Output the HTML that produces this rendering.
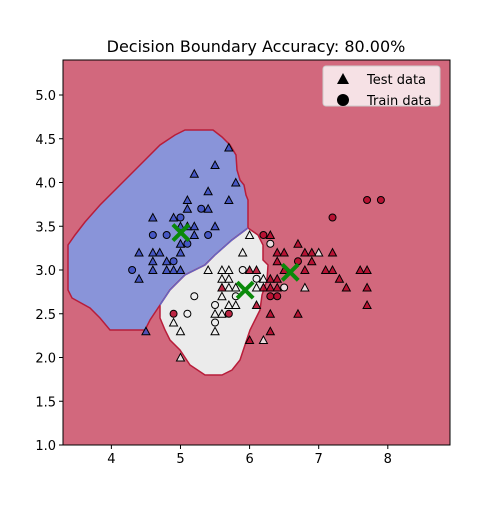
<!DOCTYPE html>
<html><head><meta charset="utf-8"><style>
body{margin:0;background:#fff;}
svg text{font-family:"DejaVu Sans","Liberation Sans",sans-serif;}
</style></head><body>
<svg id="chart" width="500" height="500" viewBox="0 0 500 500" xmlns="http://www.w3.org/2000/svg">
<rect width="500" height="500" fill="#fff"/>
<text x="256" y="52" font-size="16" text-anchor="middle">Decision Boundary Accuracy: 80.00%</text>
<g>
<rect x="63" y="60" width="387" height="385" fill="#d2687d"/>
<path fill="#8994d9" stroke="#b81d3a" stroke-width="1.5" d="M185,130 L213,130 L222,137 L230,145 L236,155 L237,170 L240,180 L244,185 L246,195 L248,200 L248,228 L232,240 L215,255 L205,265 L185,275 L170,290 L160,305 L150,320 L145,330 L110,330 L100,318 L90,308 L72,298 L68,290 L68,245 L75,235 L85,222 L100,205 L115,190 L130,175 L145,160 L160,145 L175,135 Z"/>
<path fill="#ebebeb" stroke="#b81d3a" stroke-width="1.5" d="M248,228 L258,235 L263,245 L263,260 L268,265 L267,280 L262,295 L260,310 L255,320 L250,330 L245,345 L240,360 L232,370 L222,375 L205,375 L190,365 L180,350 L170,340 L165,330 L160,318 L160,305 L170,290 L185,275 L205,265 L215,255 L232,240 Z"/>
<path d="M248,228 L232,240 L215,255 L205,265 L185,275 L170,290 L160,305" fill="none" stroke="#5a6ad0" stroke-width="1.2"/>
<g id="marks"></g>
<rect x="63" y="60" width="387" height="385" fill="none" stroke="#000" stroke-width="1"/>
</g>
<g id="axes"></g>
<g>
<rect x="323" y="66" width="117" height="40" rx="3" fill="#fff" fill-opacity="0.8" stroke="#ccc"/>
<polygon points="337,84 343,73 349,84" fill="#000"/>
<text x="367" y="84" font-size="13">Test data</text>
<circle cx="343" cy="100" r="6" fill="#000"/>
<text x="367" y="105" font-size="13">Train data</text>
</g>
</svg>
<script>
const xTicks=[4,5,6,7,8];
const yTicks=[1.0,1.5,2.0,2.5,3.0,3.5,4.0,4.5,5.0];
const xDomain=[3.3,8.9];
const yDomain=[1.0,5.4];
const classColors=["#3b4cc0","#f0f0f0","#b40426"];
const testX=[5.7,5.5,5.2,5.8,5.4,5.1,5.7,5.4,5.1,4.6,4.9,5.2,5.5,5.0,5.1,5.2,5.0,4.4,4.6,4.7,5.0,4.6,4.8,4.4,4.6,4.8,4.9,5.0,4.5,
6.0,5.9,5.4,5.6,5.7,5.6,5.7,6.2,5.7,5.8,6.1,5.6,5.7,5.8,5.5,5.6,5.5,6.2,4.9,5.0,5.0,7.0,6.8,
6.3,6.7,6.4,6.5,6.8,6.9,7.2,6.0,6.1,6.3,6.4,5.6,6.2,6.3,6.4,6.1,6.3,6.7,6.3,6.0,6.4,6.9,6.8,6.5,7.1,7.2,7.6,7.7,7.3,7.4,7.7,7.7];
const testY=[4.4,4.2,4.1,4.0,3.9,3.8,3.8,3.7,3.7,3.6,3.6,3.5,3.5,3.5,3.5,3.4,3.3,3.2,3.2,3.2,3.2,3.1,3.1,2.9,3.0,3.0,3.0,3.0,2.3,
3.4,3.2,3.0,3.0,3.0,2.9,2.9,2.9,2.8,2.8,2.8,2.7,2.6,2.6,2.5,2.5,2.3,2.2,2.4,2.3,2.0,3.2,2.8,
3.4,3.3,3.2,3.2,3.2,3.2,3.2,3.0,3.0,2.9,2.9,2.8,2.8,2.8,2.8,2.6,2.5,2.5,2.3,2.2,3.1,3.1,3.0,3.0,3.0,3.0,3.0,3.0,2.9,2.8,2.8,2.6];
const testClass=[0,0,0,0,0,0,0,0,0,0,0,0,0,0,0,0,0,0,0,0,0,0,0,0,0,0,0,0,0,
1,1,1,1,1,1,1,1,1,1,1,1,1,1,1,1,1,1,1,1,1,1,1,
2,2,2,2,2,2,2,2,2,2,2,2,2,2,2,2,2,2,2,2,2,2,2,2,2,2,2,2,2,2,2,2];
const trainX=[5.3,5.0,4.6,4.8,5.4,5.1,4.9,4.3,6.3,5.9,6.1,6.5,5.8,5.5,5.5,5.2,5.1,7.7,7.9,7.2,6.2,6.7,6.3,6.4,5.7,4.9];
const trainY=[3.7,3.6,3.4,3.4,3.4,3.3,3.1,3.0,3.3,3.0,2.9,2.8,2.7,2.6,2.4,2.7,2.5,3.8,3.8,3.6,3.4,3.1,2.7,2.7,2.5,2.5];
const trainClass=[0,0,0,0,0,0,0,0,1,1,1,1,1,1,1,1,1,2,2,2,2,2,2,2,2,2];
const centroidX=[5.006,5.936,6.588];
const centroidY=[3.428,2.770,2.974];
const NS="http://www.w3.org/2000/svg";
const L=63,R=450,T=60,B=445;
function sx(v){return L+(v-xDomain[0])/(xDomain[1]-xDomain[0])*(R-L);}
function sy(v){return B-(v-yDomain[0])/(yDomain[1]-yDomain[0])*(B-T);}
const marks=document.getElementById('marks');
const axes=document.getElementById('axes');
function mk(tag,attrs,parent){const e=document.createElementNS(NS,tag);for(const k in attrs)e.setAttribute(k,attrs[k]);parent.appendChild(e);return e;}
trainX.forEach((x,i)=>{
 const c=mk('circle',{cx:sx(x),cy:sy(trainY[i]),r:3.5,fill:classColors[trainClass[i]],'fill-opacity':0.85,stroke:'#000','stroke-width':1},marks);
 
 
});
testX.forEach((x,i)=>{
 const px=sx(x),py=sy(testY[i]);
 const p=mk('polygon',{points:`${px-4},${py+3.5} ${px},${py-4} ${px+4},${py+3.5}`,fill:classColors[testClass[i]],'fill-opacity':0.85,stroke:'#000','stroke-width':1},marks);
 
 
});
centroidX.forEach((x,i)=>{
 const px=sx(x),py=sy(centroidY[i]);
 const g=mk('path',{d:`M${px-8},${py-8}L${px+8},${py+8}M${px-8},${py+8}L${px+8},${py-8}`,stroke:'#0a8a0a','stroke-width':4,fill:'none'},marks);
 
 
});
xTicks.forEach(v=>{
 const x=sx(v);
 const t=mk('line',{x1:x,x2:x,y1:B,y2:B+4,stroke:'#000'},axes);
 
 
 const l=mk('text',{x:x,y:B+18,'font-size':13,'text-anchor':'middle'},axes);
 l.textContent=String(v);
 
 
});
yTicks.forEach(v=>{
 const y=sy(v);
 const t=mk('line',{x1:L-4,x2:L,y1:y,y2:y,stroke:'#000'},axes);
 
 
 const l=mk('text',{x:L-7,y:y+5,'font-size':13,'text-anchor':'end'},axes);
 l.textContent=v.toFixed(1);
 
 
});
</script>
</body></html>
